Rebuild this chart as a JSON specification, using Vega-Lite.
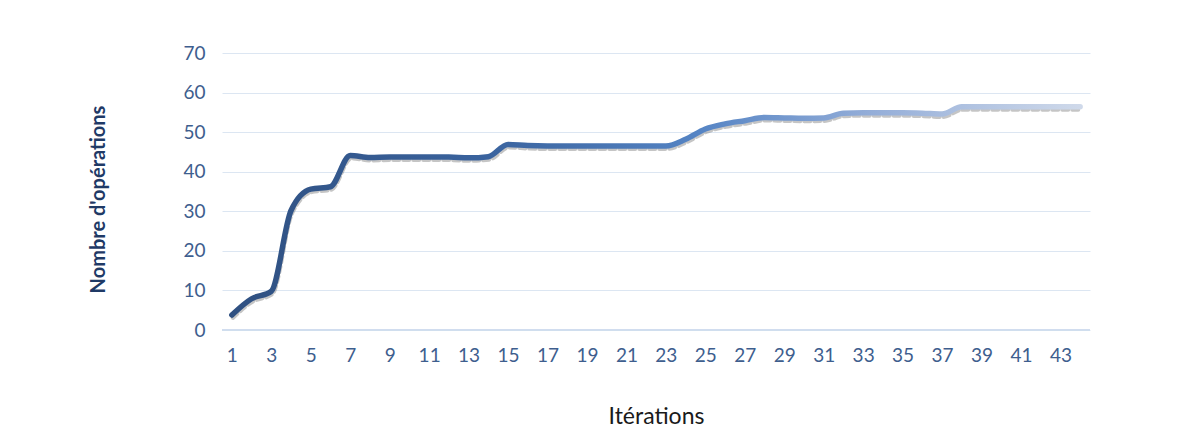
{
  "$schema": "https://vega.github.io/schema/vega-lite/v6.json",
  "autosize": {"type": "none"},
  "width": 868,
  "height": 277,
  "padding": {"left": 222, "top": 53, "right": 100, "bottom": 103},
  "background": "white",
  "config": {"view": {"stroke": null}, "font": "Lato"},
  "data": {"values": [
    {"it": 1, "ops": 3.8}, {"it": 2, "ops": 7.9}, {"it": 3, "ops": 9.8}, {"it": 4, "ops": 30.2},
    {"it": 5, "ops": 35.6}, {"it": 6, "ops": 36.2}, {"it": 7, "ops": 44.1}, {"it": 8, "ops": 43.6},
    {"it": 9, "ops": 43.7}, {"it": 10, "ops": 43.7}, {"it": 11, "ops": 43.7}, {"it": 12, "ops": 43.7},
    {"it": 13, "ops": 43.5}, {"it": 14, "ops": 43.8}, {"it": 15, "ops": 46.9}, {"it": 16, "ops": 46.6},
    {"it": 17, "ops": 46.5}, {"it": 18, "ops": 46.5}, {"it": 19, "ops": 46.5}, {"it": 20, "ops": 46.5},
    {"it": 21, "ops": 46.5}, {"it": 22, "ops": 46.5}, {"it": 23, "ops": 46.5}, {"it": 24, "ops": 48.2},
    {"it": 25, "ops": 50.8}, {"it": 26, "ops": 52.1}, {"it": 27, "ops": 52.9}, {"it": 28, "ops": 53.7},
    {"it": 29, "ops": 53.6}, {"it": 30, "ops": 53.5}, {"it": 31, "ops": 53.6}, {"it": 32, "ops": 54.8},
    {"it": 33, "ops": 54.9}, {"it": 34, "ops": 54.9}, {"it": 35, "ops": 54.9}, {"it": 36, "ops": 54.8},
    {"it": 37, "ops": 54.6}, {"it": 38, "ops": 56.4}, {"it": 39, "ops": 56.4}, {"it": 40, "ops": 56.4},
    {"it": 41, "ops": 56.4}, {"it": 42, "ops": 56.4}, {"it": 43, "ops": 56.4}, {"it": 44, "ops": 56.4}
  ]},
  "encoding": {
    "x": {"field": "it", "type": "quantitative", "scale": {"domain": [0.5, 44.5], "nice": false, "zero": false},
      "axis": {
        "values": [1,3,5,7,9,11,13,15,17,19,21,23,25,27,29,31,33,35,37,39,41,43],
        "labelOverlap": false,
        "grid": false, "ticks": false, "domain": false,
        "labelFontSize": 19, "labelColor": "#3E5E8E", "labelPadding": 16, "labelFont": "Lato",
        "title": "Itérations", "titleFontSize": 23, "titleFontWeight": "normal", "titleColor": "#1a1a1a",
        "titleFont": "Lato", "titleY": 86, "titleBaseline": "middle"
      }
    },
    "y": {"field": "ops", "type": "quantitative", "scale": {"domain": [0, 70], "nice": false},
      "axis": {
        "values": [0,10,20,30,40,50,60,70],
        "labelOverlap": false,
        "grid": true, "gridColor": "#DCE6F2", "gridWidth": 1,
        "ticks": false, "domain": false,
        "labelFontSize": 19, "labelColor": "#3E5E8E", "labelPadding": 17, "labelFont": "Lato",
        "title": "Nombre d'opérations", "titleFontSize": 20, "titleFontWeight": "bold", "titleColor": "#1F3A66",
        "titleFont": "Lato", "titleX": -124, "titleY": 146, "titleAngle": -90, "titleAlign": "center", "titleBaseline": "middle"
      }
    }
  },
  "layer": [
    {
      "data": {"values": [
        {"t": 0.5}, {"t": 1.5}, {"t": 2.5}, {"t": 3.5}, {"t": 4.5}, {"t": 5.5}, {"t": 6.5}, {"t": 7.5}, {"t": 8.5}, {"t": 9.5},
        {"t": 10.5}, {"t": 11.5}, {"t": 12.5}, {"t": 13.5}, {"t": 14.5}, {"t": 15.5}, {"t": 16.5}, {"t": 17.5}, {"t": 18.5}, {"t": 19.5},
        {"t": 20.5}, {"t": 21.5}, {"t": 22.5}, {"t": 23.5}, {"t": 24.5}, {"t": 25.5}, {"t": 26.5}, {"t": 27.5}, {"t": 28.5}, {"t": 29.5},
        {"t": 30.5}, {"t": 31.5}, {"t": 32.5}, {"t": 33.5}, {"t": 34.5}, {"t": 35.5}, {"t": 36.5}, {"t": 37.5}, {"t": 38.5}, {"t": 39.5},
        {"t": 40.5}, {"t": 41.5}, {"t": 42.5}, {"t": 43.5}, {"t": 44.5}
      ]},
      "mark": {"type": "rule", "color": "#D0DDEE", "strokeWidth": 1},
      "encoding": {
        "x": {"field": "t", "type": "quantitative"},
        "y": {"datum": 0},
        "y2": {"datum": -1.8}
      }
    },
    {
      "mark": {"type": "rule", "color": "#D0DDEE", "strokeWidth": 1},
      "encoding": {
        "x": {"datum": 0.5},
        "x2": {"datum": 44.5},
        "y": {"datum": 0}
      }
    },
    {
      "mark": {"type": "line", "interpolate": "monotone", "stroke": "#6f6f6f", "strokeWidth": 4, "opacity": 0.4,
        "strokeDash": [6, 4], "yOffset": 3, "xOffset": 1, "strokeCap": "round"}
    },
    {
      "mark": {"type": "line", "interpolate": "monotone", "strokeWidth": 5.5, "strokeCap": "round", "strokeJoin": "round",
        "stroke": {"gradient": "linear", "x1": 0, "y1": 0, "x2": 1, "y2": 0,
          "stops": [
            {"offset": 0, "color": "#2F5081"},
            {"offset": 0.3, "color": "#3A639E"},
            {"offset": 0.55, "color": "#5584C4"},
            {"offset": 0.75, "color": "#93ADD8"},
            {"offset": 1, "color": "#CFD9EA"}
          ]}}
    }
  ]
}
